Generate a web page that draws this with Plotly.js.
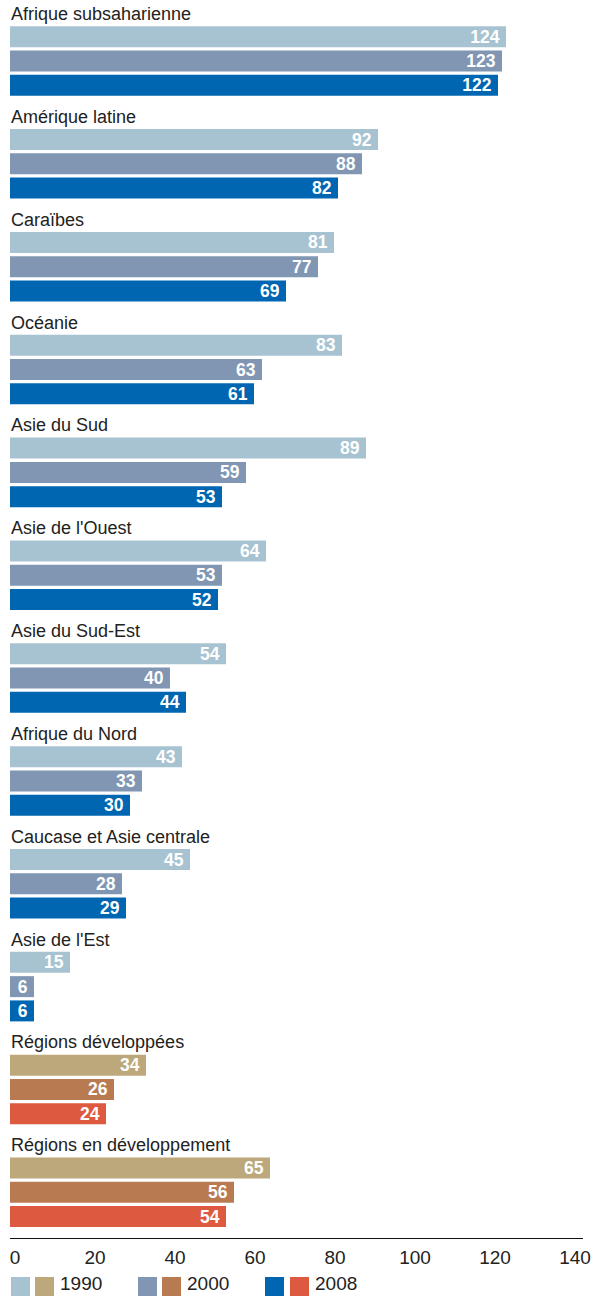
<!DOCTYPE html>
<html>
<head>
<meta charset="utf-8">
<script src="https://cdn.plot.ly/plotly-3.0.1.min.js"></script>
<style>html,body{margin:0;padding:0;background:#fff}#chart{width:592px;height:1296px}</style>
</head>
<body>
<div id="chart"></div>
<script>
// ---- data ----
const regions = [
  "Afrique subsaharienne", "Amérique latine", "Caraïbes", "Océanie", "Asie du Sud",
  "Asie de l'Ouest", "Asie du Sud-Est", "Afrique du Nord", "Caucase et Asie centrale",
  "Asie de l'Est", "Régions développées", "Régions en développement"
];
const subRegions = regions.slice(0, 10);
const aggRegions = regions.slice(10);
const years = ["1990", "2000", "2008"];
const sub1990 = [124, 92, 81, 83, 89, 64, 54, 43, 45, 15];
const sub2000 = [123, 88, 77, 63, 59, 53, 40, 33, 28, 6];
const sub2008 = [122, 82, 69, 61, 53, 52, 44, 30, 29, 6];
const agg1990 = [34, 65];
const agg2000 = [26, 56];
const agg2008 = [24, 54];
const xTicks = [0, 20, 40, 60, 80, 100, 120, 140];

// ---- style ----
const blueColors = ["#a7c3d1", "#8096b2", "#0066b2"];
const warmColors = ["#bca87a", "#b87a50", "#dd5a40"];
const FONT = "Liberation Sans, Arial, sans-serif";
const TXT = "#222222";

const W = 592, H = 1296;
const M = {l: 10, r: 9, t: 0, b: 58};
const plotW = W - M.l - M.r, plotH = H - M.t - M.b;
const barW = 0.204;
const barStep = 0.236;
const offsets = [-barStep - barW / 2, -barW / 2, barStep - barW / 2];

function barTrace(y, x, idx, colors) {
  return {
    type: "bar", orientation: "h",
    y: y, x: x,
    name: years[idx],
    width: barW, offset: offsets[idx],
    marker: {color: colors[idx], line: {width: 0}},
    text: x.map(v => v + "\u2009"),
    textposition: "inside",
    insidetextanchor: "end",
    textangle: 0,
    textfont: {family: FONT, size: 17.5, color: "#ffffff", weight: "bold"},
    hoverinfo: "skip",
    showlegend: false,
    cliponaxis: false
  };
}

const subSeries = [sub1990, sub2000, sub2008];
const aggSeries = [agg1990, agg2000, agg2008];
const data = [];
subSeries.forEach((s, i) => data.push(barTrace(subRegions, s, i, blueColors)));
aggSeries.forEach((s, i) => data.push(barTrace(aggRegions, s, i, warmColors)));

// group labels
const annotations = regions.map(r => ({
  x: 0, xref: "x", xanchor: "left", xshift: -1,
  y: r, yref: "y", yanchor: "middle", yshift: 47,
  text: r, showarrow: false,
  font: {family: FONT, size: 18, color: TXT}
}));

// legend (custom double swatches)
const px = v => (v - M.l) / plotW;
const py = v => (M.t + plotH - v) / plotH;
const shapes = [];
const legSwX = [[11, 35], [138, 162], [265, 290]];
const swSize = 19;
years.forEach((yr, i) => {
  [blueColors[i], warmColors[i]].forEach((c, j) => {
    const x0 = legSwX[i][j];
    shapes.push({type: "rect", xref: "paper", yref: "paper",
      x0: px(x0), x1: px(x0 + swSize), y0: py(1277), y1: py(1277 + swSize),
      fillcolor: c, line: {width: 0}, layer: "above"});
  });
  annotations.push({xref: "paper", yref: "paper", x: px(legSwX[i][1] + swSize + 5), y: py(1295),
    xanchor: "left", yanchor: "bottom", borderpad: 0, text: yr, showarrow: false,
    font: {family: FONT, size: 19, color: TXT}});
});

const layout = {
  width: W, height: H,
  margin: M,
  paper_bgcolor: "#ffffff", plot_bgcolor: "#ffffff",
  barmode: "overlay",
  showlegend: false,
  uniformtext: {mode: "show", minsize: 17.5},
  xaxis: {
    range: [0, plotW / 4], fixedrange: true,
    tickvals: xTicks, ticktext: xTicks.map(String),
    showgrid: false, zeroline: false,
    showline: true, linecolor: "#111111", linewidth: 1.2,
    ticks: "", ticklabelshift: 5, ticklabelstandoff: 2,
    tickfont: {family: FONT, size: 19, color: TXT}
  },
  yaxis: {
    type: "category", categoryarray: regions, categoryorder: "array",
    range: [11.444, -0.593], fixedrange: true,
    showticklabels: false, showgrid: false, zeroline: false, showline: false, ticks: ""
  },
  annotations: annotations,
  shapes: shapes,
  font: {family: FONT, color: TXT}
};

Plotly.newPlot("chart", data, layout, {displayModeBar: false, staticPlot: true});
</script>
</body>
</html>
